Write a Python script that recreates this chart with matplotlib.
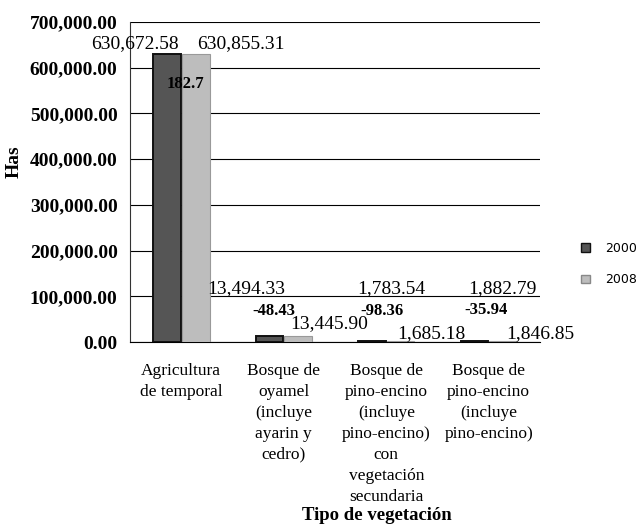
import matplotlib
matplotlib.use('Agg')
import matplotlib.pyplot as plt
from matplotlib.patches import Patch
import numpy as np

categorias = ['Agricultura\nde temporal',
              'Bosque de\noyamel\n(incluye\nayarin y\ncedro)',
              'Bosque de\npino-encino\n(incluye\npino-encino)\ncon\nvegetación\nsecundaria',
              'Bosque de\npino-encino\n(incluye\npino-encino)']
v2000 = [630672.58, 13494.33, 1783.54, 1882.79]
v2008 = [630855.31, 13445.90, 1685.18, 1846.85]
diferencia = [182.7, -48.43, -98.36, -35.94]
etiquetas_y = ['0.00', '100,000.00', '200,000.00', '300,000.00',
               '400,000.00', '500,000.00', '600,000.00', '700,000.00']

serif = 'Liberation Serif'

fig = plt.figure(figsize=(6.44, 5.24), dpi=100)
ax = fig.add_axes([0.202, 0.347, 0.6365, 0.611])

x = np.arange(len(categorias))
w = 0.27
ax.bar(x - 0.14, v2000, w, color='#555555', edgecolor='#111111', linewidth=1.4, zorder=3)
ax.bar(x + 0.14, v2008, w, color='#bdbdbd', edgecolor='#999999', linewidth=0.8, zorder=3)

ax.set_xlim(-0.5, 3.5)
ax.set_ylim(0, 700000)
ax.set_yticks(np.arange(0, 700001, 100000))
ax.set_yticklabels(etiquetas_y, fontfamily=serif, fontweight='bold', fontsize=14)
ax.set_xticks(x)
ax.set_xticklabels(categorias, fontfamily=serif, fontsize=12.5, linespacing=1.41, va='top')
ax.tick_params(axis='both', length=0)
ax.tick_params(axis='x', pad=15)
ax.tick_params(axis='y', pad=9)
ax.yaxis.grid(True, color='black', linewidth=0.8, zorder=0)
for s in ['top', 'right']:
    ax.spines[s].set_visible(False)
ax.spines['left'].set_color('#333333')
ax.spines['bottom'].set_color('black')

# etiquetas de valores (posiciones como en el original)
pos_2000 = [(-0.45, 652000), (0.63, 118000), (2.05, 118000), (3.13, 118000)]
pos_2008 = [(0.58, 652000), (1.44, 41500), (2.44, 19700), (3.5, 19700)]
pos_dif = [(0.04, 564000), (0.9, 68000), (1.96, 68000), (2.97, 70000)]
for i in range(len(categorias)):
    ax.text(pos_2000[i][0], pos_2000[i][1], f'{v2000[i]:,.2f}', ha='center', va='center',
            fontfamily=serif, fontsize=14, zorder=5)
    ax.text(pos_2008[i][0], pos_2008[i][1], f'{v2008[i]:,.2f}', ha='center', va='center',
            fontfamily=serif, fontsize=14, zorder=5, clip_on=False)
    txt = f'{diferencia[i]:.1f}' if i == 0 else f'{diferencia[i]:.2f}'
    ax.text(pos_dif[i][0], pos_dif[i][1], txt, ha='center', va='center',
            fontfamily=serif, fontweight='bold', fontsize=12, zorder=5)

ax.set_ylabel('Has', fontfamily=serif, fontweight='bold', fontsize=14)
ax.yaxis.set_label_coords(-0.262, 0.5625)
fig.text(0.585, 0.017, 'Tipo de vegetación', ha='center', va='center',
         fontfamily=serif, fontweight='bold', fontsize=13.5)

handles = [Patch(facecolor='#555555', edgecolor='#111111', label='2000'),
           Patch(facecolor='#bdbdbd', edgecolor='#888888', label='2008')]
fig.legend(handles=handles, loc='center left', bbox_to_anchor=(0.885, 0.496),
           frameon=False, handlelength=0.7, handleheight=0.7, handletextpad=1.2,
           labelspacing=1.5, prop={'family': 'DejaVu Sans', 'size': 9})

fig.savefig('out.png', dpi=100)
